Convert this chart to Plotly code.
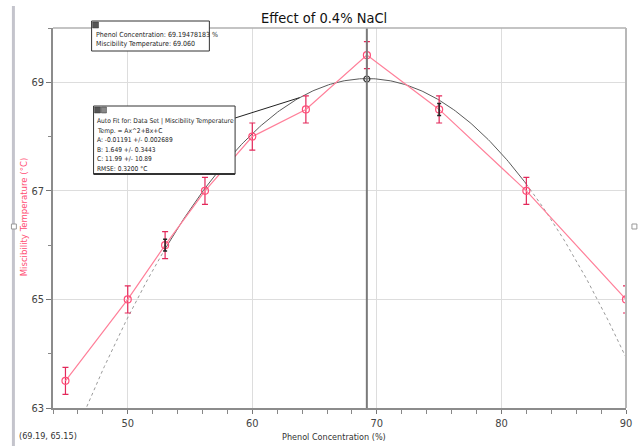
import numpy as np
import plotly.graph_objects as go

# ---- data ----
phenol = [45, 50, 53, 56.2, 60, 64.3, 69.2, 75, 82, 90]
temp = [63.5, 65.0, 66.0, 67.0, 68.0, 68.5, 69.5, 68.5, 67.0, 65.0]
temp_err = [0.25] * 10

fit_A, fit_B, fit_C = -0.01191, 1.649, 11.99
fit_solid_range = [53, 82]
fit_full_range = [44, 90]

black_x = [53, 75]
black_y = [66.0, 68.5]
black_err = [0.11, 0.11]

cursor_x = 69.19478183
cursor_y = 69.060

x_range = [44, 90]
y_range = [63, 70]

fit_lines = [
    "Auto Fit for: Data Set | Miscibility Temperature",
    "Temp. = Ax^2+Bx+C",
    "A: -0.01191 +/- 0.002689",
    "B: 1.649 +/- 0.3443",
    "C: 11.99 +/- 10.89",
    "RMSE: 0.3200 °C",
]
cursor_lines = [
    "Phenol Concentration: 69.19478183 %",
    "Miscibility Temperature: 69.060",
]

NARROW = "Liberation Sans Narrow, DejaVu Sans Condensed, Roboto Condensed, Liberation Sans, sans-serif"
PINK_LINE = "#ff7f99"
PINK_MARK = "#ff4d78"
PINK_ERR = "#e3285a"

W, H = 644, 446
L, R, T, B = 53, 632, 28, 408


def px(xp):
    return (xp - L) / (R - L)


def py(yp):
    return (B - yp) / (B - T)


def fit(x):
    return fit_A * x * x + fit_B * x + fit_C


fig = go.Figure()

# fit curve: dotted extrapolation and solid within fit range
xl = np.linspace(fit_full_range[0], fit_solid_range[0], 60)
xr = np.linspace(fit_solid_range[1], fit_full_range[1], 60)
xm = np.linspace(fit_solid_range[0], fit_solid_range[1], 200)
for xs, dash, col in [(xl, "dot", "#9a9a9a"), (xr, "dot", "#9a9a9a"), (xm, "solid", "#5a5a5a")]:
    fig.add_trace(go.Scatter(x=xs, y=fit(xs), mode="lines",
                             line=dict(color=col, width=1, dash=dash),
                             hoverinfo="skip", showlegend=False))

# pink data
fig.add_trace(go.Scatter(
    x=phenol, y=temp, mode="lines+markers",
    line=dict(color=PINK_LINE, width=1.2),
    marker=dict(symbol="circle-open", size=7, color=PINK_MARK, line=dict(width=1.2)),
    error_y=dict(type="data", array=temp_err, color=PINK_ERR, thickness=1.2, width=3),
    showlegend=False))

# black markers
fig.add_trace(go.Scatter(
    x=black_x, y=black_y, mode="markers",
    marker=dict(size=1, color="#222"),
    error_y=dict(type="data", array=black_err, color="#222", thickness=1.5, width=2),
    showlegend=False))

# cursor vertical line
fig.add_shape(type="line", xref="x", yref="paper", x0=cursor_x, x1=cursor_x, y0=0, y1=1,
              line=dict(color="#7a7a7a", width=2))
fig.add_trace(go.Scatter(
    x=[cursor_x], y=[cursor_y], mode="markers",
    marker=dict(symbol="circle-open", size=6, color="#333", line=dict(width=1.2)),
    showlegend=False))

# plot frame (top/right)
fig.add_shape(type="line", xref="paper", yref="paper", x0=0, x1=1, y0=1, y1=1,
              line=dict(color="#b0b0b0", width=1.5))
fig.add_shape(type="line", xref="paper", yref="paper", x0=1, x1=1, y0=0, y1=1,
              line=dict(color="#b8b8b8", width=2))

# window left frame
fig.add_shape(type="line", xref="paper", yref="paper", x0=px(13), x1=px(13), y0=py(446), y1=py(6),
              line=dict(color="#c4c4cc", width=3))
fig.add_shape(type="rect", xref="paper", yref="paper", x0=px(11), x1=px(16), y0=py(229), y1=py(224),
              line=dict(color="#999", width=1), fillcolor="white")
fig.add_shape(type="rect", xref="paper", yref="paper", x0=px(638), x1=px(643), y0=py(229), y1=py(224),
              line=dict(color="#999", width=1), fillcolor="white")

# cursor info box
fig.add_shape(type="rect", xref="paper", yref="paper", x0=px(92), x1=px(211), y0=py(51), y1=py(21),
              line=dict(color="#333", width=1), fillcolor="white")
fig.add_shape(type="rect", xref="paper", yref="paper", x0=px(93), x1=px(99), y0=py(28), y1=py(22),
              line=dict(color="#333", width=0.5), fillcolor="#555")
for i, t in enumerate(cursor_lines):
    fig.add_annotation(xref="paper", yref="paper", x=px(94), y=py(35 + 9 * i), text=t,
                       showarrow=False, xanchor="left", yanchor="middle",
                       font=dict(family=NARROW, size=7, color="#222"))

# fit box leader line
fig.add_shape(type="line", xref="x", yref="y",
              x0=44 + (237 - L) / ((R - L) / 46), y0=63 + (B - 118) / ((B - T) / 7),
              x1=63.8, y1=fit(63.8), line=dict(color="#222", width=1))

# fit info box
fig.add_shape(type="rect", xref="paper", yref="paper", x0=px(94), x1=px(237), y0=py(174), y1=py(106),
              line=dict(color="#333", width=1), fillcolor="white")
fig.add_shape(type="line", xref="paper", yref="paper", x0=px(94), x1=px(237), y0=py(174), y1=py(174),
              line=dict(color="#333", width=2))
fig.add_shape(type="rect", xref="paper", yref="paper", x0=px(95), x1=px(101), y0=py(113), y1=py(107),
              line=dict(color="#333", width=0.5), fillcolor="#555")
fig.add_shape(type="rect", xref="paper", yref="paper", x0=px(102), x1=px(107), y0=py(113), y1=py(107),
              line=dict(color="#333", width=0.5), fillcolor="#888")
for i, t in enumerate(fit_lines):
    fig.add_annotation(xref="paper", yref="paper", x=px(95), y=py(121 + 9.6 * i), text=t,
                       showarrow=False, xanchor="left", yanchor="middle",
                       font=dict(family=NARROW, size=6.6, color="#222"))

# title & bottom texts
fig.add_annotation(xref="paper", yref="paper", x=px(327), y=py(18), text="Effect of 0.4% NaCl",
                   showarrow=False, xanchor="center", yanchor="middle",
                   font=dict(family=NARROW, size=14.5, color="#111"))
fig.add_annotation(xref="paper", yref="paper", x=px(337), y=py(437), text="Phenol Concentration (%)",
                   showarrow=False, xanchor="center", yanchor="middle",
                   font=dict(family=NARROW, size=9, color="#333"))
fig.add_annotation(xref="paper", yref="paper", x=px(17), y=py(436), text="(69.19, 65.15)",
                   showarrow=False, xanchor="left", yanchor="middle",
                   font=dict(family=NARROW, size=9, color="#333"))
fig.add_annotation(xref="paper", yref="paper", x=px(23), y=py(217), text="Miscibility Temperature (°C)",
                   showarrow=False, xanchor="center", yanchor="middle", textangle=-90,
                   font=dict(family=NARROW, size=9.5, color="#ff4d73"))

fig.update_layout(
    width=W, height=H,
    margin=dict(l=L, r=W - R, t=T, b=H - B),
    paper_bgcolor="white", plot_bgcolor="white",
    showlegend=False,
    xaxis=dict(range=x_range, tick0=0, dtick=10, showgrid=True, gridcolor="#dddddd", gridwidth=1,
               zeroline=False, showline=True, linecolor="#8c8c8c", linewidth=1.5,
               ticks="outside", ticklen=4, tickcolor="#777",
               minor=dict(dtick=2, tick0=0, ticks="outside", ticklen=4, tickcolor="#888", showgrid=False),
               tickfont=dict(family=NARROW, size=11, color="#444")),
    yaxis=dict(range=y_range, tick0=63, dtick=2, showgrid=True, gridcolor="#dddddd", gridwidth=1,
               zeroline=False, showline=True, linecolor="#8c8c8c", linewidth=1.5,
               ticks="outside", ticklen=5, tickcolor="#777",
               minor=dict(dtick=1, tick0=63, ticks="outside", ticklen=3, tickcolor="#888", showgrid=False),
               tickfont=dict(family=NARROW, size=11, color="#444")),
)

fig.write_html("out.html")
